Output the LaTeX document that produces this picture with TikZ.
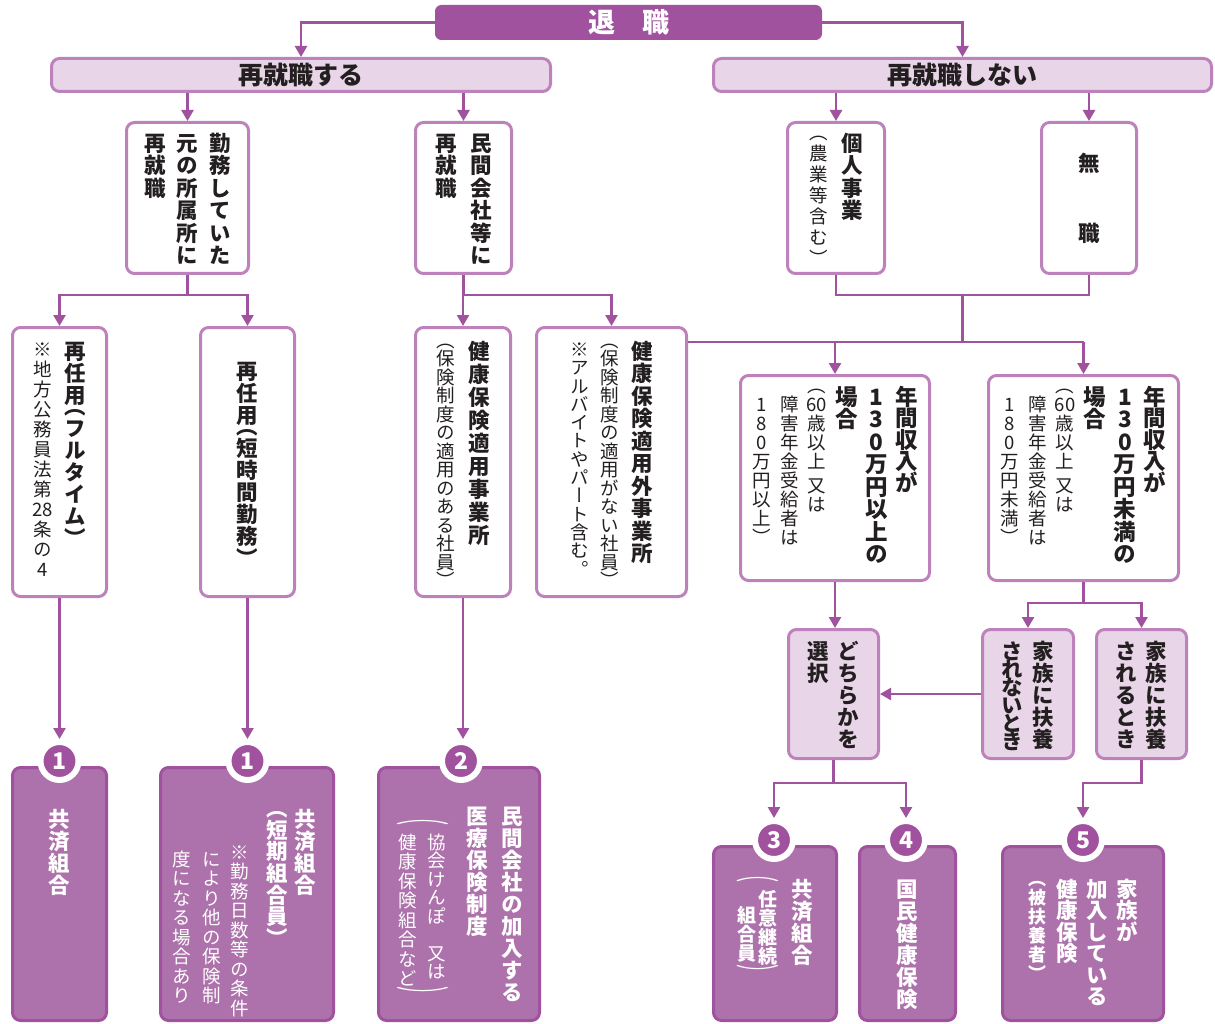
\documentclass[tikz,border=0pt]{standalone}
\usepackage{fontspec}
\usepackage{graphicx}
\usetikzlibrary{arrows.meta,calc}

\newfontfamily\jp[RawFeature=+vert]{Noto Sans CJK JP}
\newfontfamily\jph{Noto Sans CJK JP}
\newcommand\mainf{\jp\bfseries\fontsize{21.5}{22.5}\selectfont}
\newcommand\bigf{\jp\bfseries\fontsize{22.5}{22.5}\selectfont}
\newcommand\subf{\jp\mdseries\fontsize{18.5}{19}\selectfont}
\newcommand\subbf{\jp\bfseries\fontsize{18}{19}\selectfont}

\definecolor{pdark}{HTML}{A0529E}
\definecolor{pborder}{HTML}{BD82BC}
\definecolor{plight}{HTML}{E8D6E8}
\definecolor{pmid}{HTML}{AD72AB}
\definecolor{ink}{HTML}{231F20}

% vertical text: one cell per character, columns are \vtop boxes
\ExplSyntaxOn
\tl_new:N \l__tate_tl
\protected\def\tsp{}
\NewDocumentCommand \tate { O{\baselineskip} m }
  {
    \tl_set:Nx \l__tate_tl {#2}
    \vtop
      {
        \baselineskip = \dim_eval:n {#1} \scan_stop:
        \lineskiplimit = -\maxdimen
        \kern 0pt
        \tl_map_inline:Nn \l__tate_tl { \__tate_item:n {##1} }
      }
  }
\cs_new_protected:Npn \__tate_item:n #1
  {
    \tl_if_eq:nnTF {#1} { \tsp }
      { \vskip .3em }
      {
        \tl_if_eq:nnT {#1} { （ } { \vskip -.5em }
        \hbox_to_wd:nn { 1em } { \hss \vrule height .88em depth .12em width 0pt \scan_stop: #1 \hss }
        \tl_if_eq:nnT {#1} { ） } { \vskip -.5em }
      }
  }
\ExplSyntaxOff

% box from its corners (x1,y1) (x2,y2)
\newcommand\pbox[6]{\node[#1, minimum width={#5-#3-3}, minimum height={#6-#4-3}] (#2) at ({(#3+#5)/2},{(#4+#6)/2}) {};}

\tikzset{
  line/.style={draw=pdark, line width=2.5pt},
  arr/.style={line, -{Triangle[width=12pt,length=11pt]}},
  wbox/.style={draw=pborder, line width=3pt, rounded corners=8pt, fill=white, inner sep=0pt},
  lbox/.style={wbox, fill=plight},
  dbox/.style={draw=pdark, line width=3pt, rounded corners=8pt, fill=pmid, inner sep=0pt},
  badge/.style={circle, fill=pdark, draw=white, line width=6pt, minimum size=38pt, inner sep=0pt,
    text=white, font=\jph\bfseries\fontsize{23}{23}\selectfont},
  txt/.style={anchor=north, inner sep=0pt, text=ink, font=\mainf},
  wtxt/.style={txt, text=white},
  brk/.style={inner sep=0pt, text=white, font=\jp\fontsize{17}{17}\selectfont},
}

\begin{document}
\begin{tikzpicture}[x=1pt,y=-1pt]
\useasboundingbox (0,0) rectangle (1215,1024);

% header row
\node[draw=pdark, fill=pdark, line width=1pt, rounded corners=6pt, minimum width=386pt, minimum height=34pt,
  text=white, font=\jph\bfseries\fontsize{27}{27}\selectfont] (retire) at (628.5,22.5) {退　職};
\node[lbox, minimum width=499pt, minimum height=33pt, text=ink, font=\jph\bfseries\fontsize{25}{25}\selectfont]
  (yes) at (301,75) {再就職する};
\node[lbox, minimum width=498pt, minimum height=33pt, text=ink, font=\jph\bfseries\fontsize{25}{25}\selectfont]
  (no) at (962.5,75) {再就職しない};

% white boxes
\pbox{wbox}{kinmu}{125}{121}{250}{275}
\pbox{wbox}{minkan}{414}{121}{513}{275}
\pbox{wbox}{kojin}{786}{121}{886}{275}
\pbox{wbox}{mushoku}{1040}{121}{1138}{275}
\pbox{wbox}{full}{11}{326}{108}{598}
\pbox{wbox}{tanji}{199}{326}{296}{598}
\pbox{wbox}{tekiyo}{414}{326}{512}{598}
\pbox{wbox}{tekiyogai}{535}{326}{688}{598}
\pbox{wbox}{ijo}{739}{374}{931}{582}
\pbox{wbox}{miman}{987}{374}{1180}{582}
\pbox{lbox}{sentaku}{787}{628}{880}{760}
\pbox{lbox}{fuyonashi}{981}{628}{1075}{760}
\pbox{lbox}{fuyoari}{1095}{628}{1188}{760}

% result boxes
\pbox{dbox}{resA}{11}{766}{108}{1022}
\pbox{dbox}{resB}{159}{766}{335}{1022}
\pbox{dbox}{resC}{377}{766}{541}{1022}
\pbox{dbox}{res3}{712}{845}{838}{1022}
\pbox{dbox}{res4}{858}{845}{957}{1022}
\pbox{dbox}{res5}{1001}{845}{1165}{1022}

\node[badge] (bA) at (59.5,761) {1};
\node[badge] (bB) at (247.5,761) {1};
\node[badge] (bC) at (461,761) {2};
\node[badge] (b3) at (774,840) {3};
\node[badge] (b4) at (906,840) {4};
\node[badge] (b5) at (1083,840) {5};

% texts
\node[txt] (t-kinmu) at ([yshift=-11pt]kinmu.north)
  {\tate{再就職}\kern11pt\tate{元の所属所に}\kern11pt\tate{勤務していた}};
\node[txt] (t-minkan) at ([yshift=-11pt]minkan.north)
  {\tate{再就職}\kern13pt\tate{民間会社等に}};
\node[txt] (t-kojin) at ([yshift=-11pt]kojin.north)
  {{\subf\tate[21pt]{（農業等含む）}}\kern13pt\tate{個人事業}};
\node[txt] (t-mushoku) at ([yshift=-31pt]mushoku.north) {\tate[70pt]{無職}};
\node[txt] (t-full) at ([yshift=-14pt]full.north)
  {{\subf\tate[20pt]{※地方公務員法第{28}条の4}}\kern12pt\tate[22pt]{再任用（フルタイム）}};
\node[txt] (t-tanji) at ([yshift=-34pt]tanji.north) {\tate[22pt]{再任用（短時間勤務）}};
\node[txt] (t-tekiyo) at ([yshift=-14pt]tekiyo.north)
  {{\subf\tate[18.5pt]{（保険制度の適用のある社員）}}\kern13pt\tate[23pt]{健康保険適用事業所}};
\node[txt] (t-tekiyogai) at ([yshift=-14pt]tekiyogai.north)
  {{\subf\tate[18.3pt]{※アルバイトやパート含む。}\kern11.5pt\tate[18.5pt]{（保険制度の適用がない社員）}}%
   \kern13pt\tate[22.5pt]{健康保険適用外事業所}};
\foreach \b/\w in {ijo/以上,miman/未満}{
  \node[txt, font=\bigf] (t-\b) at ([yshift=-11pt]\b.north)
    {{\subf\raisebox{-10pt}{\tate{180万円\w ）}}\kern9.5pt\raisebox{-10pt}{\tate{障害年金受給者は}}%
      \kern8.5pt\tate{（{60}歳以上\tsp 又は}}%
     \kern9.5pt\tate{場合}\kern7.5pt\tate{130万円\w の}\kern7.5pt\tate[21.5pt]{年間収入が}};
}
\node[txt] (t-sentaku) at ([yshift=-12pt]sentaku.north)
  {\tate[22pt]{選択}\kern8.5pt\tate[22pt]{どちらかを}};
\node[txt] (t-fuyonashi) at ([yshift=-12pt]fuyonashi.north)
  {\tate[18pt]{されないとき}\kern9.5pt\tate[22pt]{家族に扶養}};
\node[txt] (t-fuyoari) at ([yshift=-12pt]fuyoari.north)
  {\tate[22pt]{されるとき}\kern8.5pt\tate[22pt]{家族に扶養}};

\node[wtxt] (t-resA) at ([yshift=-42pt]resA.north) {\tate[22pt]{共済組合}};
\node[wtxt] (t-resB) at ([xshift=-2.75pt,yshift=-42pt]resB.north)
  {{\subf\raisebox{-42pt}{\tate[19.5pt]{度になる場合あり}}\kern11.5pt\raisebox{-42pt}{\tate[19.5pt]{により他の保険制}}%
    \kern9.5pt\raisebox{-35pt}{\tate[19.5pt]{※勤務日数等の条件}}}%
   \kern17pt\tate[21.7pt]{（短期組合員）}\kern6.5pt\tate[22pt]{共済組合}};
\node[wtxt] (t-resC) at ([xshift=1.75pt,yshift=-39pt]resC.north)
  {{\subf\raisebox{-28pt}{\tate[19.5pt]{健康保険組合など}}\kern10.5pt\raisebox{-28pt}{\tate[18.5pt]{協会けんぽ{}又は}}}%
   \kern20pt\tate[22pt]{医療保険制度}\kern13.5pt\tate[22pt]{民間会社の加入する}};
\node[brk] (resC-open) at (422.5,823) {\scalebox{3.2}[1]{（}};
\node[brk] (resC-close) at (422.5,994) {\scalebox{3.2}[1]{）}};
\node[wtxt] (t-res3) at ([yshift=-33pt]res3.north)
  {{\jp\bfseries\fontsize{19}{19}\selectfont\raisebox{-28pt}{\tate{組合員}}\kern2pt\raisebox{-12pt}{\tate{任意継続}}}%
   \kern13.75pt\tate[22pt]{共済組合}};
\node[brk] (res3-open) at (757.5,880) {\scalebox{2.6}[1]{（}};
\node[brk] (res3-close) at (757.5,972) {\scalebox{2.6}[1]{）}};
\node[wtxt] (t-res4) at ([yshift=-33pt]res4.north) {\tate[22pt]{国民健康保険}};
\node[wtxt] (t-res5) at ([yshift=-33pt]res5.north)
  {{\subbf\tate[19pt]{（被扶養者）}}\kern10.25pt\tate[21.5pt]{健康保険}\kern8.5pt\tate[21.5pt]{加入している}%
   \kern8.5pt\tate[21.5pt]{家族が}};

% connectors
\draw[arr] (retire.west) -| (yes.north);
\draw[arr] (retire.east) -| (no.north);
\draw[arr] (yes.south -| kinmu.north) -- (kinmu.north);
\draw[arr] (yes.south -| minkan.north) -- (minkan.north);
\draw[arr] (no.south -| kojin.north) -- (kojin.north);
\draw[arr] (no.south -| mushoku.north) -- (mushoku.north);

\coordinate (kj) at ([yshift=-20pt]kinmu.south);
\draw[arr] (kinmu.south) -- (kj) -| (full.north);
\draw[arr] (kj) -| (tanji.north);
\coordinate (mj) at ([yshift=-20pt]minkan.south);
\draw[arr] (minkan.south) -- (mj) -| (tekiyo.north);
\draw[arr] (mj) -| (tekiyogai.north);

\coordinate (kk) at ([yshift=-20pt]kojin.south);
\draw[line] (kojin.south) -- (kk) -- (kk -| mushoku.south) -- (mushoku.south);
\coordinate (km) at ($(kk)!.5!(kk -| mushoku.south)$);
\coordinate (kr) at ([yshift=-16pt]tekiyogai.north east);
\draw[line] (km) -- (km |- kr);
\draw[line] (kr) -- (kr -| miman.north);
\draw[arr] (kr -| ijo.north) -- (ijo.north);
\draw[arr] (kr -| miman.north) -- (miman.north);

\draw[arr] (ijo.south) -- (ijo.south |- sentaku.north);
\coordinate (mm) at ([yshift=-21pt]miman.south);
\draw[arr] (miman.south) -- (mm) -| (fuyonashi.north);
\draw[arr] (mm) -| (fuyoari.north);
\draw[arr] (fuyonashi.west) -- (sentaku.east);

\coordinate (ss) at ([yshift=-23pt]sentaku.south);
\draw[arr] (sentaku.south) -- (ss) -| (b3.north);
\draw[arr] (ss) -| (b4.north);
\draw[arr] (fuyoari.south) -- ([yshift=-23pt]fuyoari.south) -| (b5.north);

\draw[arr] (full.south) -- (full.south |- bA.north);
\draw[arr] (tanji.south) -- (tanji.south |- bB.north);
\draw[arr] (tekiyo.south) -- (tekiyo.south |- bC.north);
\end{tikzpicture}
\end{document}
